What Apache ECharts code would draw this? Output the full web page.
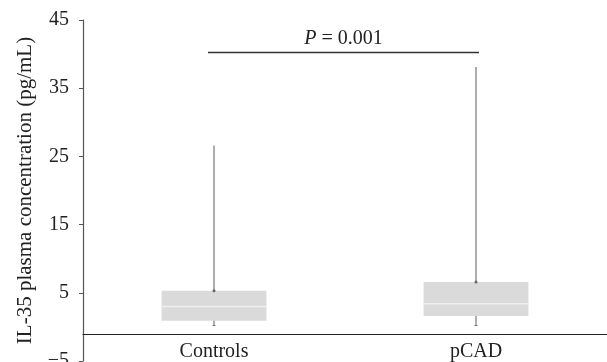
<!DOCTYPE html>
<html><head><meta charset="utf-8">
<script src="https://cdn.jsdelivr.net/npm/echarts@6/dist/echarts.min.js"></script>
<style>html,body{margin:0;padding:0;background:#fff}#c{width:607px;height:362px}</style>
</head><body><div id="c"></div>
<script>
const categories = ['Controls', 'pCAD'];
// [min, Q1, median, Q3, max]
const boxStats = [
  [0.2, 0.9, 3.0, 5.3, 26.6],
  [0.2, 1.6, 3.4, 6.6, 38.1]
];
const yTicks = [-5, 5, 15, 25, 35, 45];
const sigLevel = 40.2;
const sigText = '0.001';

const chart = echarts.init(document.getElementById('c'));
const font = 'Liberation Serif';
const fs = 20;
chart.setOption({
  animation: false,
  grid: {left: 83, right: 0, top: 20, bottom: 1, outerBoundsMode: 'none', containLabel: false},
  xAxis: {
    type: 'category', data: categories,
    offset: -27,
    axisLine: {onZero: false, lineStyle: {color: '#222', width: 1.2}},
    axisTick: {show: false},
    axisLabel: {fontFamily: font, fontSize: fs, color: '#222', margin: 8}
  },
  yAxis: {
    type: 'value', min: -5, max: 45, interval: 10,
    name: 'IL-35 plasma concentration (pg/mL)',
    nameLocation: 'middle', nameGap: 47,
    nameTextStyle: {fontFamily: font, fontSize: 21, color: '#222'},
    axisLine: {show: true, lineStyle: {color: '#555', width: 1.2}},
    axisTick: {show: true, length: 4, lineStyle: {color: '#555'}},
    splitLine: {show: false},
    axisLabel: {fontFamily: font, fontSize: fs, color: '#222', margin: 14,
      formatter: v => yTicks.includes(v) ? (v < 0 ? '\u2212' + Math.abs(v) : String(v)) : ''}
  },
  series: [{
    type: 'custom',
    data: boxStats.map((s, i) => [i].concat(s)),
    encode: {x: 0, y: [1, 2, 3, 4, 5]},
    renderItem: function (params, api) {
      const i = api.value(0);
      const mn = api.coord([i, api.value(1)]);
      const q1 = api.coord([i, api.value(2)]);
      const md = api.coord([i, api.value(3)]);
      const q3 = api.coord([i, api.value(4)]);
      const mx = api.coord([i, api.value(5)]);
      const bw = api.size([1, 0])[0] * 0.4;
      const x = q1[0];
      return {
        type: 'group',
        children: [
          {type: 'rect', shape: {x: x - bw / 2, y: q3[1], width: bw, height: q1[1] - q3[1]},
            style: {fill: '#dadadb'}},
          {type: 'line', shape: {x1: x - bw / 2, y1: md[1], x2: x + bw / 2, y2: md[1]},
            style: {stroke: '#eeeeee', lineWidth: 1.4}},
          {type: 'line', shape: {x1: x, y1: mx[1], x2: x, y2: q3[1]},
            style: {stroke: '#777', lineWidth: 1.2}},
          {type: 'line', shape: {x1: x, y1: q1[1], x2: x, y2: mn[1]},
            style: {stroke: '#777', lineWidth: 1.2}},
          {type: 'line', shape: {x1: x - 1.5, y1: mn[1], x2: x + 1.5, y2: mn[1]},
            style: {stroke: '#777', lineWidth: 1}},
          {type: 'circle', shape: {cx: x, cy: q3[1], r: 1.5}, style: {fill: '#666'}}
        ]
      };
    },
    markLine: {
      symbol: 'none', silent: true,
      lineStyle: {color: '#333', width: 1.4, type: 'solid'},
      label: {
        position: 'middle', distance: 4,
        formatter: '{i|P} = ' + sigText,
        fontFamily: font, fontSize: fs, color: '#222',
        rich: {i: {fontFamily: font, fontStyle: 'italic', fontSize: fs, color: '#222'}}
      },
      data: [[{coord: [0, sigLevel], x: 208}, {coord: [1, sigLevel], x: 479}]]
    }
  }]
});
</script></body></html>
